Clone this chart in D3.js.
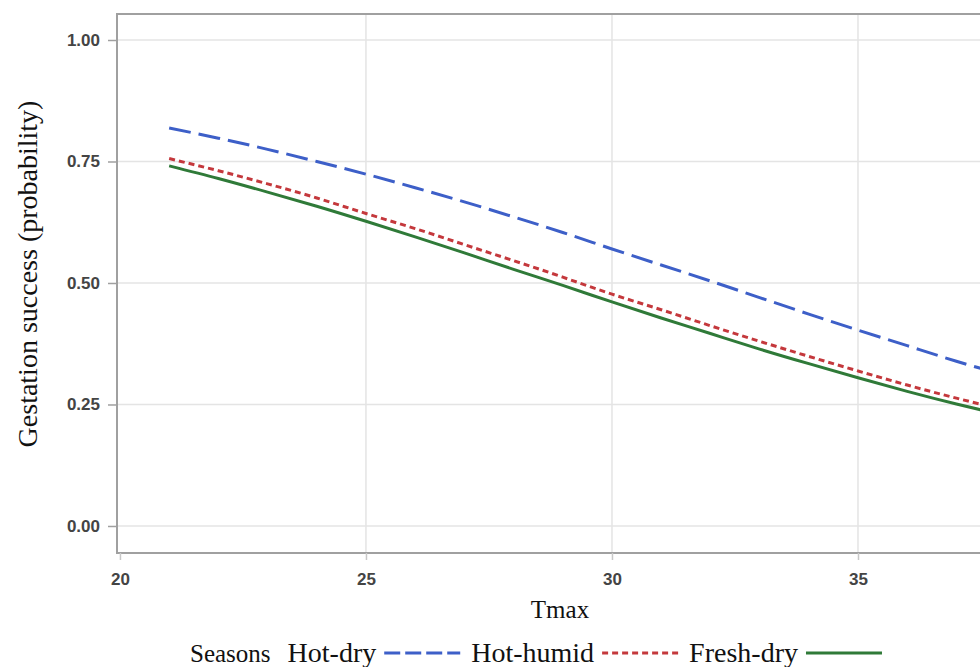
<!DOCTYPE html>
<html>
  <head>
    <meta charset="utf-8" />
    <title>Gestation success by Tmax</title>
    <script src="https://d3js.org/d3.v7.min.js"></script>
    <style>
      body {
        margin: 0;
        background: #fff;
        overflow: hidden;
      }
      .tick text {
        font-family: "Liberation Sans", Arial, sans-serif;
        font-size: 17px;
        font-weight: bold;
        fill: #444;
      }
      .serif {
        font-family: "Liberation Serif", "Times New Roman", serif;
        fill: #111;
      }
    </style>
  </head>
  <body>

    <svg id="chart"></svg>

    <script>

      // Tmax values (the right part of the plot is cut off at the picture edge)
      var tmax = [21, 22, 23, 24, 25, 26, 27, 28, 29, 30, 31, 32, 33, 34, 35, 36, 37, 38];

      var hotDry = [0.819, 0.798, 0.775, 0.750, 0.724, 0.696, 0.667, 0.636, 0.604, 0.570,
                    0.537, 0.504, 0.470, 0.436, 0.403, 0.371, 0.339, 0.310];
      var hotHumid = [0.756, 0.731, 0.704, 0.675, 0.643, 0.612, 0.579, 0.546, 0.512, 0.477,
                      0.445, 0.412, 0.380, 0.349, 0.319, 0.290, 0.263, 0.238];
      var freshDry = [0.741, 0.715, 0.687, 0.658, 0.627, 0.595, 0.562, 0.528, 0.495, 0.461,
                      0.428, 0.396, 0.364, 0.334, 0.305, 0.277, 0.251, 0.227];

      var xTicks = [20, 25, 30, 35];
      var yTicks = [0, 0.25, 0.5, 0.75, 1];

      var seriesNames = ["Hot-dry", "Hot-humid", "Fresh-dry"];
      var seriesColors = ["#3d5fc8", "#c4383c", "#2f7a38"];
      var seriesDash = ["22,8", "6,4", null];

      var width = 980;
      var height = 667;

      var svg = d3.select("#chart")
        .attr("width", width)
        .attr("height", height);

      var x = d3.scaleLinear()
        .domain([19.94, 40])
        .range([117, 1104]);

      var y = d3.scaleLinear()
        .domain([-0.0556, 1.0535])
        .range([553, 14]);

      // grid
      var grid = svg.append("g");
      grid.selectAll(".vgrid")
        .data(xTicks.slice(1).concat([40]))
        .enter().append("line")
        .attr("x1", function(d) { return x(d); })
        .attr("x2", function(d) { return x(d); })
        .attr("y1", y.range()[0])
        .attr("y2", y.range()[1])
        .attr("stroke", "#e4e4e4")
        .attr("stroke-width", 1.5);

      grid.selectAll(".hgrid")
        .data(yTicks)
        .enter().append("line")
        .attr("x1", x.range()[0])
        .attr("x2", x.range()[1])
        .attr("y1", function(d) { return y(d); })
        .attr("y2", function(d) { return y(d); })
        .attr("stroke", "#e4e4e4")
        .attr("stroke-width", 1.5);

      // frame
      svg.append("rect")
        .attr("x", x.range()[0])
        .attr("y", y.range()[1])
        .attr("width", x.range()[1] - x.range()[0])
        .attr("height", y.range()[0] - y.range()[1])
        .attr("fill", "none")
        .attr("stroke", "#a0a0a0")
        .attr("stroke-width", 2);

      // axes
      var yAxis = d3.axisLeft(y)
        .tickValues(yTicks)
        .tickFormat(d3.format(".2f"))
        .tickSize(9)
        .tickPadding(8);

      var xAxis = d3.axisBottom(x)
        .tickValues(xTicks)
        .tickFormat(d3.format("d"))
        .tickSize(7)
        .tickPadding(13);

      svg.append("g")
        .attr("transform", "translate(" + x.range()[0] + ",0)")
        .call(yAxis)
        .call(function(g) {
          g.select(".domain").remove();
          g.selectAll(".tick line").attr("stroke", "#a0a0a0").attr("stroke-width", 1.5);
        });

      svg.append("g")
        .attr("transform", "translate(0," + y.range()[0] + ")")
        .call(xAxis)
        .call(function(g) {
          g.select(".domain").remove();
          g.selectAll(".tick line").attr("stroke", "#c8c8c8").attr("stroke-width", 1.5);
        });

      // curves
      var allSeries = [hotDry, hotHumid, freshDry];
      var line = d3.line()
        .x(function(d, i) { return x(tmax[i]); })
        .y(function(d) { return y(d); })
        .curve(d3.curveNatural);

      svg.append("g").selectAll("path")
        .data(allSeries)
        .enter().append("path")
        .attr("d", line)
        .attr("fill", "none")
        .attr("stroke", function(d, i) { return seriesColors[i]; })
        .attr("stroke-width", 3)
        .attr("stroke-dasharray", function(d, i) { return seriesDash[i]; });

      // axis titles
      svg.append("text")
        .attr("class", "serif")
        .attr("x", 560)
        .attr("y", 618)
        .attr("text-anchor", "middle")
        .style("font-size", "25px")
        .text("Tmax");

      svg.append("text")
        .attr("class", "serif")
        .attr("transform", "translate(37,274) rotate(-90)")
        .attr("text-anchor", "middle")
        .style("font-size", "28px")
        .text("Gestation success (probability)");

      // legend
      var legend = svg.append("g").attr("transform", "translate(0,662)");
      var cursor = 190;

      var title = legend.append("text")
        .attr("class", "serif")
        .attr("x", cursor)
        .style("font-size", "25px")
        .text("Seasons");
      cursor += title.node().getComputedTextLength() + 17;

      seriesNames.forEach(function(name, i) {
        var t = legend.append("text")
          .attr("class", "serif")
          .attr("x", cursor)
          .style("font-size", "28px")
          .text(name);
        cursor += t.node().getComputedTextLength() + 8;
        legend.append("line")
          .attr("x1", cursor)
          .attr("x2", cursor + 76)
          .attr("y1", -9)
          .attr("y2", -9)
          .attr("stroke", seriesColors[i])
          .attr("stroke-width", 3)
          .attr("stroke-dasharray", i == 0 ? "16,5" : seriesDash[i]);
        cursor += 76 + 11;
      });

    </script>
  </body>
</html>
